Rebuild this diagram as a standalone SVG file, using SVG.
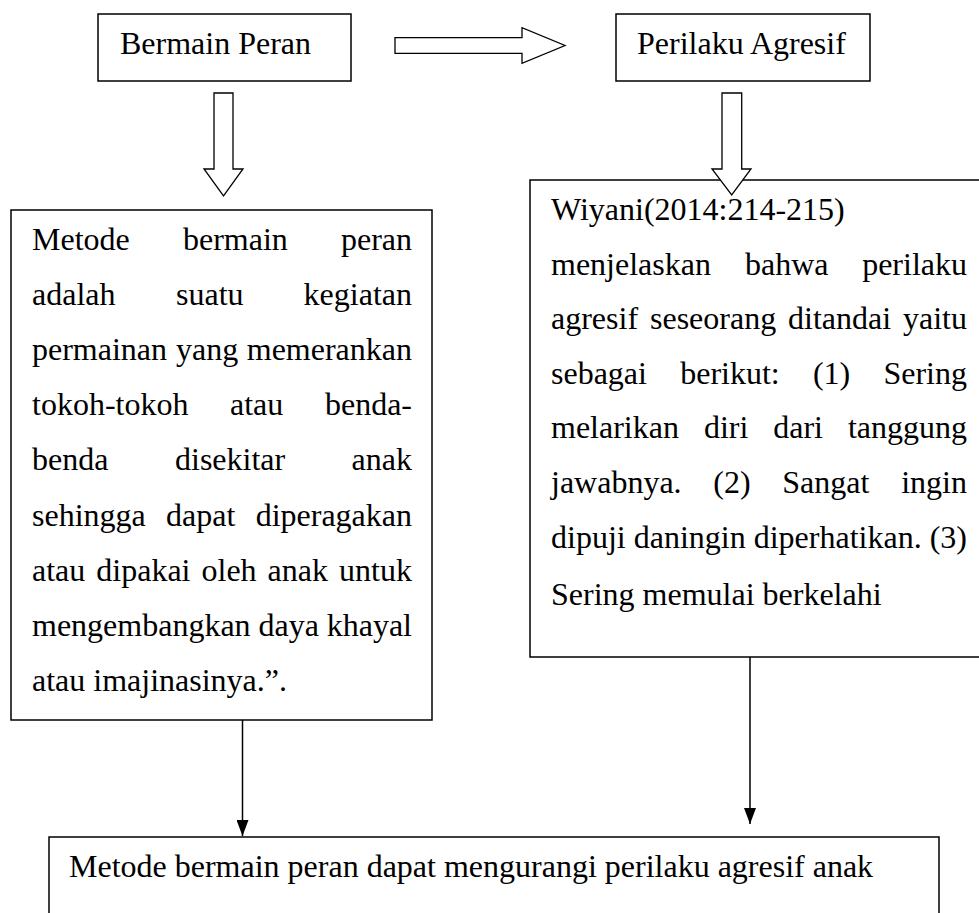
<svg xmlns="http://www.w3.org/2000/svg" width="979" height="913" viewBox="0 0 979 913">
<style>
.box{fill:#fff;stroke:#000;stroke-width:1.5}
.harrow{fill:#fff;stroke:#000;stroke-width:1.3}
.t{font-family:"Liberation Serif","Times New Roman",serif;font-size:32px;fill:#000}
.e{text-anchor:end}
.conn{stroke:#000;stroke-width:1.5;fill:none}
</style>
<defs>
<marker id="ah" viewBox="0 0 16 12" refX="16" refY="6" markerWidth="16" markerHeight="12" markerUnits="userSpaceOnUse" orient="auto">
<path d="M0,0 L16,6 L0,12 Z" fill="#000"/>
</marker>
</defs>
<rect width="979" height="913" fill="#fff"/>

<g id="node-bermain">
<rect class="box" x="98" y="14" width="253" height="67"/>
<text class="t" x="120" y="54">Bermain Peran</text>
</g>

<g id="node-perilaku">
<rect class="box" x="616" y="14" width="254" height="67"/>
<text class="t" x="637" y="54">Perilaku Agresif</text>
</g>

<g id="node-metode">
<rect class="box" x="11" y="210" width="421" height="510"/>
<text class="t" y="250"><tspan x="32">Metode</tspan><tspan x="183">bermain</tspan></text>
<text class="t e" x="412" y="250">peran</text>
<text class="t" y="305"><tspan x="32">adalah</tspan><tspan x="176">suatu</tspan></text>
<text class="t e" x="412" y="305">kegiatan</text>
<text class="t" y="360"><tspan x="32">permainan</tspan><tspan x="176">yang</tspan></text>
<text class="t e" x="412" y="360">memerankan</text>
<text class="t" y="415"><tspan x="32">tokoh-tokoh</tspan><tspan x="230">atau</tspan></text>
<text class="t e" x="412" y="415">benda-</text>
<text class="t" y="470"><tspan x="32">benda</tspan><tspan x="175">disekitar</tspan></text>
<text class="t e" x="412" y="470">anak</text>
<text class="t" y="526"><tspan x="32">sehingga</tspan><tspan x="166">dapat</tspan></text>
<text class="t e" x="412" y="526">diperagakan</text>
<text class="t" y="581"><tspan x="32">atau</tspan><tspan x="96.3">dipakai</tspan><tspan x="201.5">oleh</tspan><tspan x="267.6">anak</tspan></text>
<text class="t e" x="412" y="581">untuk</text>
<text class="t" y="636"><tspan x="32">mengembangkan</tspan><tspan x="258.5">daya</tspan></text>
<text class="t e" x="412" y="636">khayal</text>
<text class="t" x="32" y="691">atau imajinasinya.”.</text>
</g>

<g id="node-wiyani">
<rect class="box" x="530" y="180" width="460" height="477"/>
<text class="t" x="551" y="220">Wiyani(2014:214-215)</text>
<text class="t" y="275"><tspan x="551">menjelaskan</tspan><tspan x="745">bahwa</tspan></text>
<text class="t e" x="967" y="275">perilaku</text>
<text class="t" y="329"><tspan x="551">agresif</tspan><tspan x="650">seseorang</tspan><tspan x="788">ditandai</tspan></text>
<text class="t e" x="967" y="329">yaitu</text>
<text class="t" y="384"><tspan x="551">sebagai</tspan><tspan x="680.2">berikut:</tspan><tspan x="812.9">(1)</tspan></text>
<text class="t e" x="967" y="384">Sering</text>
<text class="t" y="438"><tspan x="551">melarikan</tspan><tspan x="703.9">diri</tspan><tspan x="773.2">dari</tspan></text>
<text class="t e" x="967" y="438">tanggung</text>
<text class="t" y="493"><tspan x="551">jawabnya.</tspan><tspan x="713.3">(2)</tspan><tspan x="782.3">Sangat</tspan></text>
<text class="t e" x="967" y="493">ingin</text>
<text class="t" y="548"><tspan x="551">dipuji</tspan><tspan x="633.7">daningin</tspan><tspan x="753.7">diperhatikan.</tspan></text>
<text class="t e" x="967" y="548">(3)</text>
<text class="t" x="551" y="605">Sering memulai berkelahi</text>
</g>

<g id="node-hasil">
<rect class="box" x="49" y="837" width="890" height="110"/>
<text class="t" x="69" y="877">Metode bermain peran dapat mengurangi perilaku agresif anak</text>
</g>

<g id="connectors">
<polygon class="harrow" points="395,37.7 522,37.7 522,27.7 565,45.5 522,63.3 522,53.3 395,53.3"/>
<polygon class="harrow" points="214,93 233,93 233,169 243,169 223.5,196 204,169 214,169"/>
<polygon class="harrow" points="722,93 741.7,93 741.7,169 751,169 731.7,195 712,169 722,169"/>
<line class="conn" x1="242.5" y1="720" x2="242.5" y2="836" marker-end="url(#ah)"/>
<line class="conn" x1="750" y1="657" x2="750" y2="824" marker-end="url(#ah)"/>
</g>
</svg>
